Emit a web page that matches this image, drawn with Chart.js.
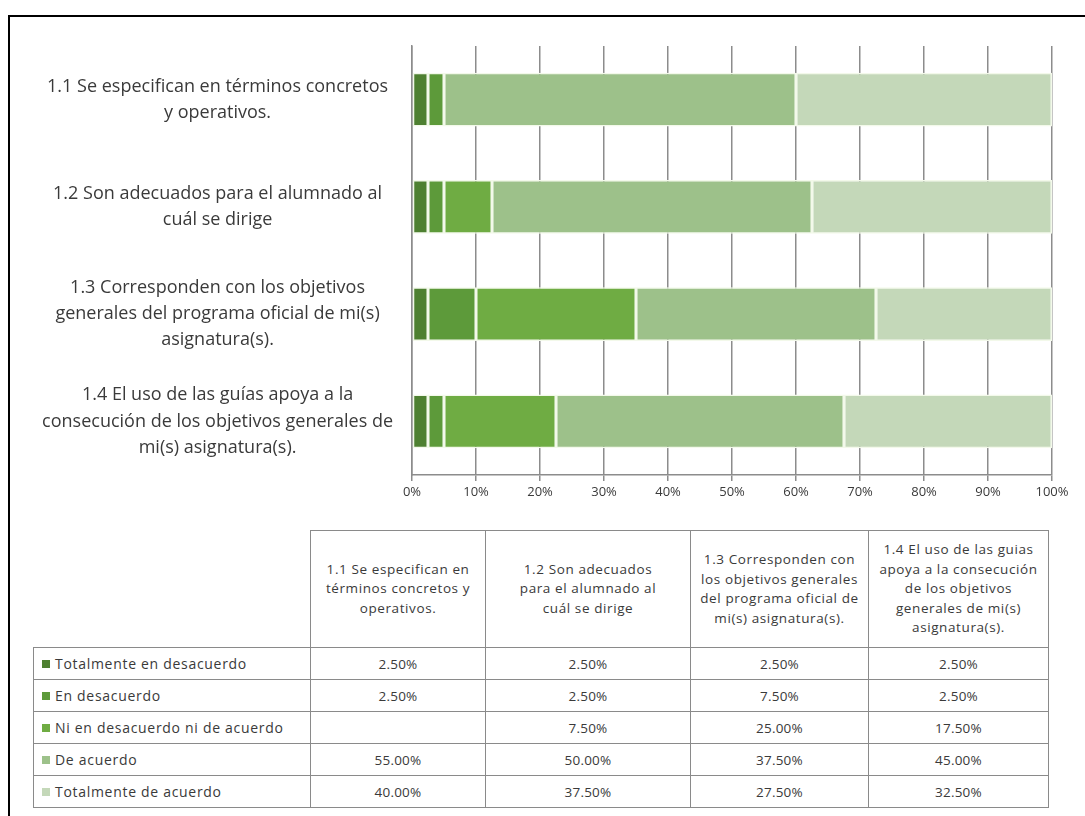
<!DOCTYPE html>
<html>
<head>
<meta charset="utf-8">
<title>Objetivos de las guías</title>
<script src="https://cdn.jsdelivr.net/npm/chart.js@4.4.0/dist/chart.umd.min.js"></script>
<style>
  html, body { margin: 0; padding: 0; background: #fff; overflow: hidden; }
  body { width: 1085px; height: 816px; position: relative; font-family: "Open Sans", Lato, sans-serif; color: #3a3a3a; }
  .frame { position: absolute; left: 8px; top: 15px; width: 1200px; height: 900px; border-left: 2px solid #000; border-top: 2px solid #000; }
  #chart-wrap { position: absolute; left: 0; top: 0; width: 1085px; height: 520px; }
  table.data { position: absolute; left: 33px; top: 530px; border-collapse: collapse; table-layout: fixed; font-size: 13.5px; letter-spacing: 0.2px; }
  table.data td { border: 1px solid #8a8a8a; padding: 0; text-align: center; vertical-align: middle; height: 31px; }
  table.data tr.head td { height: 116px; line-height: 19.5px; font-size: 13.5px; letter-spacing: 0.6px; }
  table.data td.corner { border-top: none; border-left: none; }
  table.data td.name { text-align: left; padding-left: 8px; white-space: nowrap; font-size: 14px; letter-spacing: 0.7px; }
  .sw { display: inline-block; width: 8px; height: 8px; margin-right: 5px; vertical-align: 1px; }
</style>
</head>
<body>
<div class="frame"></div>
<div id="chart-wrap"><canvas id="likert-chart" width="1085" height="520"></canvas></div>
<table class="data" id="data-table"></table>

<script>
// Category labels on the bar axis (one entry per line)
const categories = [
    ['1.1 Se especifican en términos concretos', 'y operativos.'],
    ['1.2 Son adecuados para el alumnado al', 'cuál se dirige'],
    ['1.3 Corresponden con los objetivos', 'generales del programa oficial de mi(s)', 'asignatura(s).'],
    ['1.4 El uso de las guías apoya a la', 'consecución de los objetivos generales de', 'mi(s) asignatura(s).']
];
// Same items as they are wrapped in the table header
const tableHeaders = [
    ['1.1 Se especifican en', 'términos concretos y', 'operativos.'],
    ['1.2 Son adecuados', 'para el alumnado al', 'cuál se dirige'],
    ['1.3 Corresponden con', 'los objetivos generales', 'del programa oficial de', 'mi(s) asignatura(s).'],
    ['1.4 El uso de las guias', 'apoya a la consecución', 'de los objetivos', 'generales de mi(s)', 'asignatura(s).']
];

const seriesNames = ['Totalmente en desacuerdo', 'En desacuerdo', 'Ni en desacuerdo ni de acuerdo', 'De acuerdo', 'Totalmente de acuerdo'];
const seriesColors = ['#4e8031', '#5d9a3a', '#6fac43', '#9dc18a', '#c4d8b9'];

// Percentages per item (1.1 .. 1.4)
const totalDesacuerdo = [2.5, 2.5, 2.5, 2.5];
const enDesacuerdo = [2.5, 2.5, 7.5, 2.5];
const niNi = [null, 7.5, 25, 17.5];
const deAcuerdo = [55, 50, 37.5, 45];
const totalAcuerdo = [40, 37.5, 27.5, 32.5];

const xTicks = [0, 10, 20, 30, 40, 50, 60, 70, 80, 90, 100];

const seriesValues = [totalDesacuerdo, enDesacuerdo, niNi, deAcuerdo, totalAcuerdo];
const FONT = '"Open Sans", Lato, sans-serif';
const GRID = '#8c8c8c';

// looser text spacing on the canvas, set before labels are measured
const spacing = {
    id: 'spacing',
    beforeInit(chart) { chart.ctx.letterSpacing = '1px'; }
};

new Chart(document.getElementById('likert-chart'), {
    type: 'bar',
    plugins: [spacing],
    data: {
        labels: categories,
        datasets: seriesNames.map((name, i) => ({
            label: name,
            data: seriesValues[i],
            backgroundColor: seriesColors[i],
            borderColor: '#f3f9ea',
            borderWidth: 1.5,
            borderSkipped: false,
            barPercentage: 0.5,
            categoryPercentage: 1
        }))
    },
    options: {
        indexAxis: 'y',
        responsive: false,
        animation: false,
        layout: { padding: { left: 0, top: 46, right: 33, bottom: 0 } },
        plugins: { legend: { display: false }, tooltip: { enabled: false } },
        scales: {
            x: {
                stacked: true, min: 0, max: 100,
                afterBuildTicks: s => { s.ticks = xTicks.map(v => ({ value: v })); },
                afterFit: s => { s.height = 45; },
                ticks: { callback: v => v + '%', color: '#3a3a3a', font: { family: FONT, size: 13 }, padding: 3, maxRotation: 0 },
                grid: { color: GRID, lineWidth: 1.5, tickLength: 6 },
                border: { color: GRID, width: 1.5 }
            },
            y: {
                stacked: true,
                // fixed label column; no extra room above/below the plot for the wrapped labels
                afterFit: s => { s.width = 412; s.paddingTop = 0; s.paddingBottom = 0; },
                grid: { display: false, drawTicks: false },
                border: { display: true, color: GRID, width: 1.5 },
                ticks: { crossAlign: 'center', padding: 19, color: '#3a3a3a', font: { family: FONT, size: 18, lineHeight: 1.45 } }
            }
        }
    }
});

// Data table under the chart
const table = document.getElementById('data-table');
let html = '<colgroup><col style="width:277px"><col style="width:175px"><col style="width:205px"><col style="width:178px"><col style="width:180px"></colgroup>';
html += '<tr class="head"><td class="corner"></td>' + tableHeaders.map(h => '<td>' + h.join('<br>') + '</td>').join('') + '</tr>';
seriesNames.forEach((name, i) => {
    html += '<tr><td class="name"><span class="sw" style="background:' + seriesColors[i] + '"></span>' + name + '</td>';
    html += seriesValues[i].map(v => '<td>' + (v === null ? '' : v.toFixed(2) + '%') + '</td>').join('');
    html += '</tr>';
});
table.innerHTML = html;
</script>
</body>
</html>
